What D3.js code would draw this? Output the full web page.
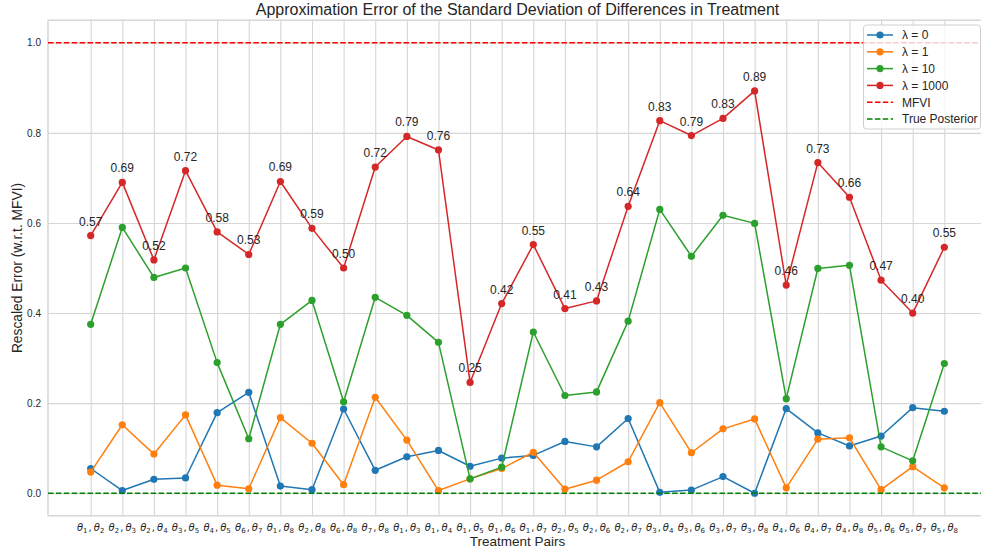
<!DOCTYPE html>
<html>
<head>
<meta charset="utf-8">
<script src="https://cdn.jsdelivr.net/npm/d3@7"></script>
<style>
  html, body { margin: 0; padding: 0; background: #ffffff; }
  svg { display: block; }
</style>
</head>
<body>
<svg id="chart" width="981" height="552"></svg>
<script>
const categories = ["θ1,θ2","θ2,θ3","θ2,θ4","θ3,θ5","θ4,θ5","θ6,θ7","θ1,θ8","θ2,θ8","θ6,θ8","θ7,θ8",
  "θ1,θ3","θ1,θ4","θ1,θ5","θ1,θ6","θ1,θ7","θ2,θ5","θ2,θ6","θ2,θ7","θ3,θ4","θ3,θ6",
  "θ3,θ7","θ3,θ8","θ4,θ6","θ4,θ7","θ4,θ8","θ5,θ6","θ5,θ7","θ5,θ8"];

const lambda0 = [0.055,0.006,0.031,0.034,0.179,0.224,0.016,0.008,0.187,0.051,0.081,0.095,0.060,0.078,0.084,0.115,0.103,0.166,0.002,0.007,0.037,0.000,0.188,0.134,0.105,0.127,0.190,0.182];
const lambda1 = [0.047,0.152,0.087,0.174,0.018,0.010,0.168,0.111,0.019,0.213,0.118,0.006,0.032,0.055,0.091,0.009,0.029,0.070,0.201,0.090,0.143,0.165,0.012,0.120,0.123,0.008,0.059,0.012];
const lambda10 = [0.375,0.590,0.479,0.500,0.290,0.121,0.375,0.428,0.203,0.435,0.395,0.335,0.032,0.058,0.358,0.217,0.225,0.382,0.630,0.526,0.617,0.599,0.210,0.499,0.506,0.103,0.072,0.288];
const lambda1000 = [0.572,0.690,0.518,0.716,0.580,0.530,0.692,0.588,0.500,0.724,0.792,0.762,0.246,0.421,0.552,0.410,0.427,0.637,0.827,0.794,0.832,0.893,0.462,0.734,0.657,0.473,0.400,0.546];

const seriesNames = ["λ = 0","λ = 1","λ = 10","λ = 1000"];
const seriesColors = ["#1f77b4","#ff7f0e","#2ca02c","#d62728"];
const yTicks = [0.0,0.2,0.4,0.6,0.8,1.0];
const mfviLevel = 1.0;
const trueLevel = 0.0;

const titleText = "Approximation Error of the Standard Deviation of Differences in Treatment";
const xLabelText = "Treatment Pairs";
const yLabelText = "Rescaled Error (w.r.t. MFVI)";

const series = [lambda0, lambda1, lambda10, lambda1000];

const svg = d3.select("#chart");
const L = 48, R = 987, T = 20.2, B = 515.8;
const gridColor = "#d6d6d6";
const textColor = "#262626";
const font = "'Liberation Sans', Arial, sans-serif";

const n = categories.length;
const x = d3.scaleLinear().domain([-0.05*(n-1), (n-1)*1.05]).range([L, R]);
const y = d3.scaleLinear().domain([-0.05, 1.05]).range([B, T]);

// grid
const gx = svg.append("g").attr("transform", `translate(0,${B})`)
  .call(d3.axisBottom(x).tickValues(d3.range(n)).tickSize(-(B-T)).tickFormat(() => ""));
gx.select(".domain").remove();
gx.selectAll(".tick line").attr("stroke", gridColor).attr("stroke-width", 1.1);

const gy = svg.append("g").attr("transform", `translate(${L},0)`)
  .call(d3.axisLeft(y).tickValues(yTicks).tickSize(-(R-L)).tickPadding(7).tickFormat(d3.format(".1f")));
gy.select(".domain").remove();
gy.selectAll(".tick line").attr("stroke", gridColor).attr("stroke-width", 1.1);
gy.selectAll(".tick text").attr("font-family", font).attr("font-size", 10).attr("fill", textColor);

// x tick labels (math style)
const xl = svg.append("g").attr("transform", `translate(0,${B})`)
  .call(d3.axisBottom(x).tickValues(d3.range(n)).tickSize(0).tickFormat(() => ""));
xl.select(".domain").remove();
xl.selectAll(".tick text").each(function(d) {
  const t = d3.select(this);
  t.attr("y", 0).attr("dy", null).attr("transform", "translate(0,14.8)")
   .attr("font-family", "'DejaVu Sans', sans-serif").attr("font-size", 10).attr("fill", textColor)
   .attr("text-anchor", "middle");
  t.text("");
  const parts = categories[d].split(",");
  parts.forEach((p, k) => {
    const m = p.match(/(θ)(\d+)/);
    if (k > 0) t.append("tspan").attr("font-style", "normal").text(",\u2009");
    t.append("tspan").attr("font-style", "italic").text(m[1]);
    t.append("tspan").attr("font-size", 7).attr("dy", 2.4).text(m[2]);
    t.append("tspan").attr("dy", -2.4).text("\u200A");
  });
});

// spines
svg.append("rect").attr("x", L).attr("y", T).attr("width", R-L).attr("height", B-T)
  .attr("fill", "none").attr("stroke", "#d0d0d0").attr("stroke-width", 1.3);

// series
const line = d3.line().x((d,i) => x(i)).y(d => y(d));
series.forEach((s, k) => {
  const g = svg.append("g");
  g.append("path").datum(s).attr("d", line).attr("fill", "none")
    .attr("stroke", seriesColors[k]).attr("stroke-width", 1.5).attr("stroke-linejoin", "round");
  g.selectAll("circle").data(s).join("circle")
    .attr("cx", (d,i) => x(i)).attr("cy", d => y(d)).attr("r", 3.6).attr("fill", seriesColors[k]);
});

// reference lines
svg.append("line").attr("x1", L).attr("x2", R).attr("y1", y(mfviLevel)).attr("y2", y(mfviLevel))
  .attr("stroke", "#ff0000").attr("stroke-width", 1.5).attr("stroke-dasharray", "5.5,2.4");
svg.append("line").attr("x1", L).attr("x2", R).attr("y1", y(trueLevel)).attr("y2", y(trueLevel))
  .attr("stroke", "#008000").attr("stroke-width", 1.5).attr("stroke-dasharray", "5.5,2.4");

// annotations
svg.append("g").selectAll("text").data(lambda1000).join("text")
  .attr("x", (d,i) => x(i)).attr("y", d => y(d) - 10)
  .attr("text-anchor", "middle").attr("font-family", font).attr("font-size", 12).attr("fill", textColor)
  .text(d => d3.format(".2f")(d));

// title & labels
svg.append("text").attr("x", (L+R)/2).attr("y", 15).attr("text-anchor", "middle")
  .attr("font-family", font).attr("font-size", 16).attr("fill", textColor).text(titleText);
svg.append("text").attr("x", (L+R)/2).attr("y", 546).attr("text-anchor", "middle")
  .attr("font-family", font).attr("font-size", 13.5).attr("fill", textColor).text(xLabelText);
svg.append("text").attr("transform", `translate(21.5,${(T+B)/2}) rotate(-90)`).attr("text-anchor", "middle")
  .attr("font-family", font).attr("font-size", 13.8).attr("fill", textColor).text(yLabelText);

// legend
const lg = svg.append("g");
lg.append("rect").attr("x", 863.5).attr("y", 25).attr("width", 117).attr("height", 104).attr("rx", 3)
  .attr("fill", "#ffffff").attr("fill-opacity", 0.8).attr("stroke", "#d0d0d0").attr("stroke-width", 1);
const legendItems = seriesNames.map((nm, k) => ({name: nm, color: seriesColors[k], dash: null, marker: true}))
  .concat([{name: "MFVI", color: "#ff0000", dash: "5.5,2.4", marker: false},
           {name: "True Posterior", color: "#008000", dash: "5.5,2.4", marker: false}]);
legendItems.forEach((it, k) => {
  const yy = 35 + k * 16.8;
  lg.append("line").attr("x1", 867).attr("x2", 893).attr("y1", yy).attr("y2", yy)
    .attr("stroke", it.color).attr("stroke-width", 1.5).attr("stroke-dasharray", it.dash);
  if (it.marker) lg.append("circle").attr("cx", 880).attr("cy", yy).attr("r", 3.6).attr("fill", it.color);
  lg.append("text").attr("x", 902).attr("y", yy + 4.3).attr("font-family", font).attr("font-size", 12)
    .attr("fill", textColor).text(it.name);
});
</script>
</body>
</html>
